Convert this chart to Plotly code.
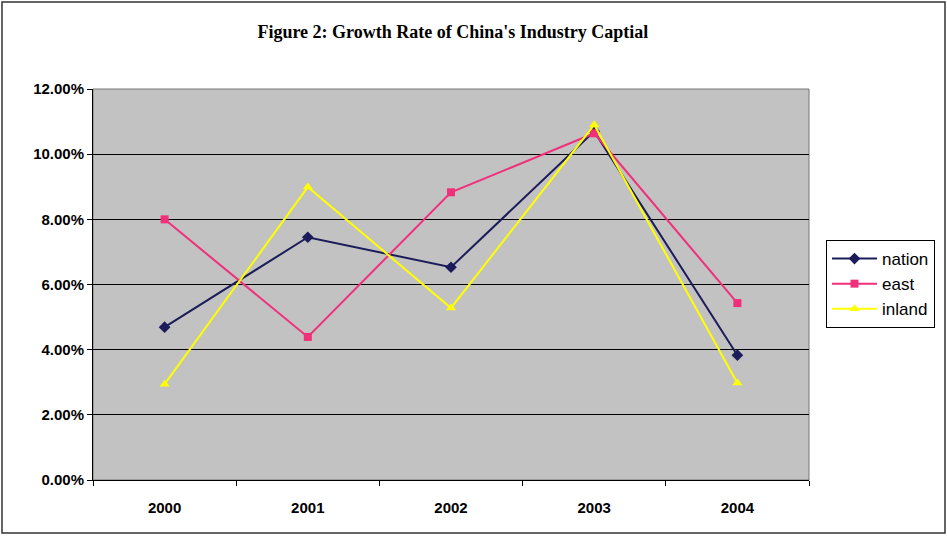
import plotly.graph_objects as go

years = ["2000", "2001", "2002", "2003", "2004"]
nation = [0.0469, 0.0745, 0.0653, 0.1070, 0.0383]
east = [0.0800, 0.0439, 0.0883, 0.1064, 0.0543]
inland = [0.0294, 0.0899, 0.0528, 0.1090, 0.0298]
y_ticks = [0, 0.02, 0.04, 0.06, 0.08, 0.10, 0.12]

fig = go.Figure()
series = [
    ("nation", nation, "#1c1c5a", "diamond", 9),
    ("east", east, "#f0307a", "square", 8),
    ("inland", inland, "#ffff00", "triangle-up", 9),
]
for name, vals, col, sym, sz in series:
    fig.add_trace(go.Scatter(
        x=years, y=vals, name=name, mode="lines+markers",
        line=dict(color=col, width=2),
        marker=dict(symbol=sym, size=sz, color=col),
    ))

L, R, T, B = 93, 138, 89, 56
W, H = 947, 536
pw, ph = W - L - R, H - T - B

fig.update_layout(
    width=W, height=H,
    margin=dict(l=L, r=R, t=T, b=B),
    paper_bgcolor="white",
    plot_bgcolor="#c2c2c2",
    title=dict(
        text="<b>Figure 2: Growth Rate of China's Industry Captial</b>",
        font=dict(family="Liberation Serif", size=18, color="black"),
        x=(476) / W, xanchor="center", xref="paper",
        y=1 - 32 / H, yanchor="middle",
    ),
    showlegend=True,
    legend=dict(
        x=(826 - L) / pw, xanchor="left",
        y=1 - (240 - T) / ph, yanchor="top",
        bordercolor="black", borderwidth=1, bgcolor="white",
        font=dict(family="Liberation Sans", size=17, color="black"),
        tracegroupgap=0, itemwidth=45,
    ),
    font=dict(family="Liberation Sans", color="black"),
)
fig.update_xaxes(
    type="category",
    range=[-0.5, 4.5],
    showgrid=False,
    showline=True, linecolor="black", linewidth=1,
    ticks="outside", tickson="boundaries", ticklen=5, tickcolor="black",
    ticklabelstandoff=14,
    tickfont=dict(family="Liberation Sans", size=15, color="black", weight="bold"),
    mirror=False,
)
fig.update_yaxes(
    range=[0, 0.12],
    tickvals=y_ticks,
    tickformat=".2%",
    showgrid=True, gridcolor="black", gridwidth=1,
    showline=True, linecolor="black", linewidth=1,
    ticks="outside", ticklen=5, tickcolor="black",
    tickfont=dict(family="Liberation Sans", size=15, color="black", weight="bold"),
    zeroline=False,
)
# right/top frame of plot area
fig.add_shape(type="rect", xref="paper", yref="paper", x0=0, x1=1, y0=0, y1=1,
              line=dict(color="#777777", width=1), layer="below")
# chart area border
fig.add_shape(type="rect", xref="paper", yref="paper",
              x0=(2 - L) / pw, x1=(945 - L) / pw,
              y0=1 - (533 - T) / ph, y1=1 - (2 - T) / ph,
              line=dict(color="#333333", width=1.5))

fig.write_html("out.html")
